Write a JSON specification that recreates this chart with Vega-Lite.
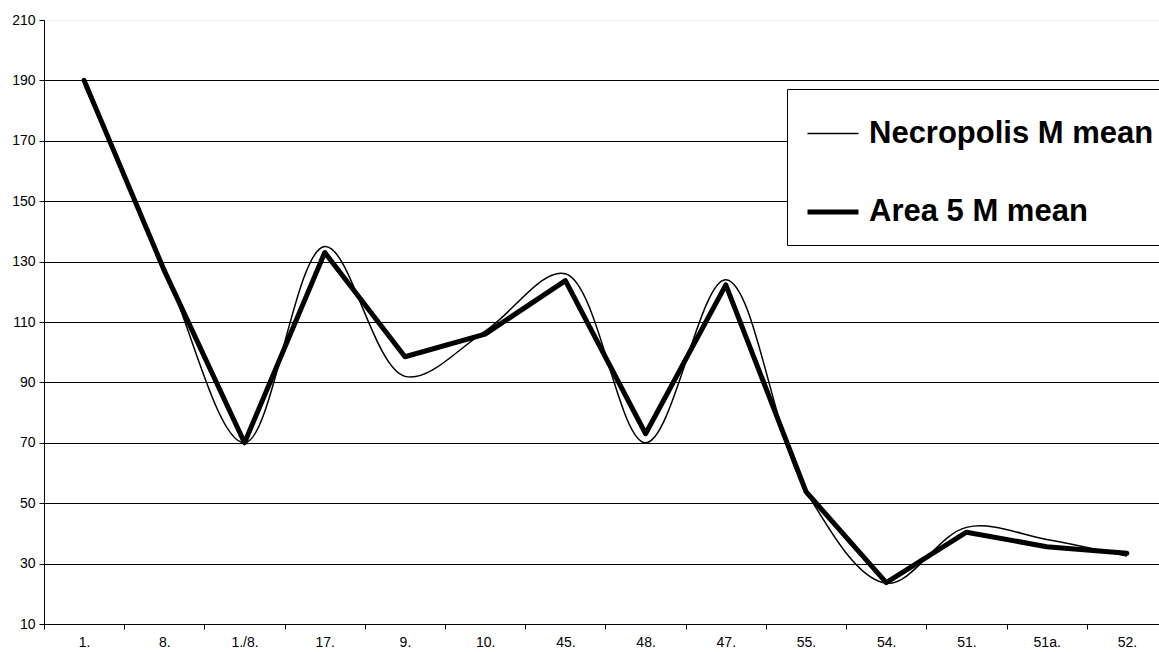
{
  "$schema": "https://vega.github.io/schema/vega-lite/v6.json",
  "width": 1115,
  "height": 604,
  "autosize": {"type": "none"},
  "padding": {"left": 44, "top": 20, "right": 0, "bottom": 28},
  "background": "white",
  "config": {"view": {"stroke": null}, "font": "Liberation Sans"},
  "data": {"values": [
    {"site": "1.", "series": "Necropolis M mean", "value": 188.5},
    {"site": "8.", "series": "Necropolis M mean", "value": 128},
    {"site": "1./8.", "series": "Necropolis M mean", "value": 70},
    {"site": "17.", "series": "Necropolis M mean", "value": 135},
    {"site": "9.", "series": "Necropolis M mean", "value": 92},
    {"site": "10.", "series": "Necropolis M mean", "value": 107},
    {"site": "45.", "series": "Necropolis M mean", "value": 126},
    {"site": "48.", "series": "Necropolis M mean", "value": 70},
    {"site": "47.", "series": "Necropolis M mean", "value": 124},
    {"site": "55.", "series": "Necropolis M mean", "value": 54},
    {"site": "54.", "series": "Necropolis M mean", "value": 23.5},
    {"site": "51.", "series": "Necropolis M mean", "value": 42},
    {"site": "51a.", "series": "Necropolis M mean", "value": 38},
    {"site": "52.", "series": "Necropolis M mean", "value": 32.5},
    {"site": "1.", "series": "Area 5 M mean", "value": 190},
    {"site": "8.", "series": "Area 5 M mean", "value": 127},
    {"site": "1./8.", "series": "Area 5 M mean", "value": 70},
    {"site": "17.", "series": "Area 5 M mean", "value": 133},
    {"site": "9.", "series": "Area 5 M mean", "value": 98.5},
    {"site": "10.", "series": "Area 5 M mean", "value": 106},
    {"site": "45.", "series": "Area 5 M mean", "value": 123.7},
    {"site": "48.", "series": "Area 5 M mean", "value": 73},
    {"site": "47.", "series": "Area 5 M mean", "value": 122.3},
    {"site": "55.", "series": "Area 5 M mean", "value": 53.8},
    {"site": "54.", "series": "Area 5 M mean", "value": 23.7},
    {"site": "51.", "series": "Area 5 M mean", "value": 40.4},
    {"site": "51a.", "series": "Area 5 M mean", "value": 35.6},
    {"site": "52.", "series": "Area 5 M mean", "value": 33.4}
  ]},
  "encoding": {
    "x": {
      "field": "site", "type": "nominal", "sort": null,
      "scale": {"domain": ["1.", "8.", "1./8.", "17.", "9.", "10.", "45.", "48.", "47.", "55.", "54.", "51.", "51a.", "52."], "range": [0, 1123], "paddingInner": 0, "paddingOuter": 0},
      "axis": {"title": null, "labelAngle": 0, "labelFontSize": 14, "labelColor": "black", "domainColor": "black", "tickColor": "black", "tickSize": 5, "tickBand": "extent", "labelPadding": 6, "grid": false, "labelOverlap": false}
    },
    "y": {
      "field": "value", "type": "quantitative",
      "scale": {"domain": [10, 210], "nice": false, "zero": false},
      "axis": {"title": null, "values": [10, 30, 50, 70, 90, 110, 130, 150, 170, 190, 210], "grid": true,
        "gridColor": {"condition": {"test": "datum.value == 210", "value": "#f0f0f0"}, "value": "black"},
        "gridWidth": 1, "tickSize": 5, "tickColor": "black", "domainColor": "black", "labelPadding": 4, "labelFontSize": 14, "labelColor": "black"}
    },
    "strokeWidth": {
      "field": "series", "type": "nominal",
      "scale": {"domain": ["Necropolis M mean", "Area 5 M mean"], "range": [1.5, 5]},
      "legend": {"orient": "none", "legendX": 743, "legendY": 69, "title": null, "strokeColor": "black", "fillColor": "white", "padding": 18,
        "labelFontSize": 31, "labelFontWeight": "bold", "labelColor": "black", "labelLimit": 400,
        "symbolType": "stroke", "symbolSize": 2600, "symbolStrokeColor": "black", "labelOffset": 8, "rowPadding": 35}
    }
  },
  "layer": [
    {"transform": [{"filter": "datum.series === 'Necropolis M mean'"}], "mark": {"type": "line", "color": "black", "interpolate": "catmull-rom"}},
    {"transform": [{"filter": "datum.series === 'Area 5 M mean'"}], "mark": {"type": "line", "color": "black", "strokeCap": "round", "strokeJoin": "round"}}
  ]
}
